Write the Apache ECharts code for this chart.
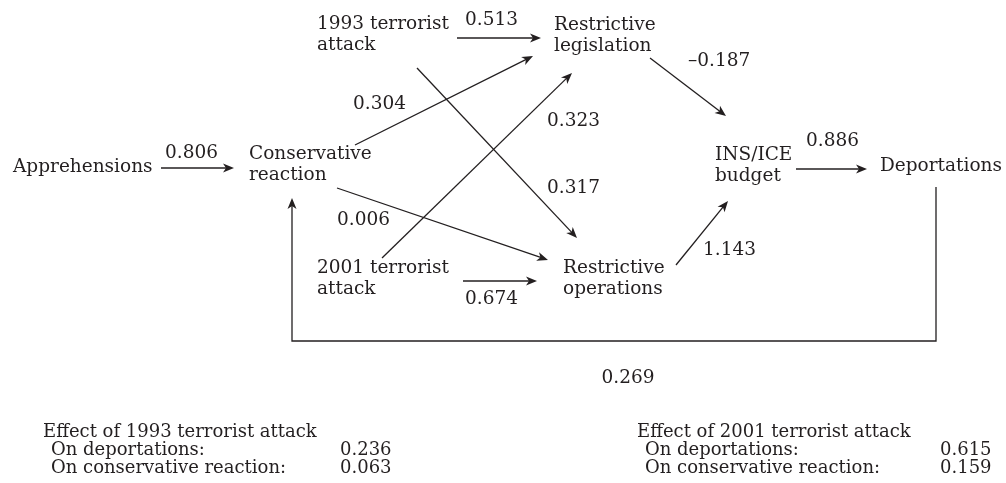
<!DOCTYPE html>
<html>
<head>
<meta charset="utf-8">
<script src="https://cdn.jsdelivr.net/npm/echarts@6/dist/echarts.min.js"></script>
<style>
html,body{margin:0;padding:0;background:#fff;}
#chart{width:1006px;height:483px;}
</style>
</head>
<body>
<div id="chart"></div>
<script>
// ---------------- DATA ----------------
const nodeNames = [
  'Apprehensions',
  'Conservative\nreaction',
  '1993 terrorist\nattack',
  'Restrictive\nlegislation',
  'INS/ICE\nbudget',
  'Deportations',
  '2001 terrorist\nattack',
  'Restrictive\noperations'
];
const pathFrom = [0, 2, 1, 6, 2, 1, 6, 3, 7, 4, 5];
const pathTo   = [1, 3, 3, 3, 7, 7, 7, 4, 4, 5, 1];
const pathCoefficients = ['0.806', '0.513', '0.304', '0.323', '0.317', '0.006', '0.674', '\u20130.187', '1.143', '0.886', '0.269'];
const effectTitles = ['Effect of 1993 terrorist attack', 'Effect of 2001 terrorist attack'];
const effectRows = ['On deportations:', 'On conservative reaction:'];
const effects1993 = ['0.236', '0.063'];
const effects2001 = ['0.615', '0.159'];

// ---------------- LAYOUT (diagram space 1006 x 483) ----------------
const nodeAnchor = [[13,167],[249,154],[317,24],[554,25],[715,155],[880,166],[317,268],[563,268]]; // left x, centre of first line
const pathRoutes = [
  [[161,168],[234,168]],
  [[457,38],[541,38]],
  [[355,145],[533,56]],
  [[382,258],[572,73]],
  [[417,68],[577,238]],
  [[337,188],[548,260]],
  [[463,281],[537,281]],
  [[650,58],[726,116]],
  [[676,265],[728,201]],
  [[796,169],[867,169]],
  [[936,187],[936,341],[292,341],[292,198]]
];
const coefAnchor = [[165,153],[465,20],[353,104],[547,121],[547,188],[337,220],[465,299],[688,61],[703,250],[806,141],[628,378]];
const coefAlign  = ['left','left','left','left','left','left','left','left','left','left','center'];
const effectBlockX = [[43,51,340],[637,645,940]]; // title x, row x, value x
const effectLineY = [432, 450, 468];

// ---------------- STYLE ----------------
const INK = '#231f20';
const FAMILY = '"DejaVu Serif", serif';
function fitSize(str, width){
  const ctx = document.createElement('canvas').getContext('2d');
  ctx.font = '100px ' + FAMILY;
  return Math.round(100 * width / ctx.measureText(str).width * 2) / 2;
}
const mainSize = fitSize('Apprehensions', 139);
const noteSize = fitSize('Effect of 1993 terrorist attack', 275);
const MAIN_LH = 21, NOTE_LH = 18;

function textEl(str, x, y, size, align, lh){
  return {
    type: 'text',
    style: {
      text: str, x: x, y: y, fill: INK,
      font: size + 'px ' + FAMILY,
      align: align || 'left', verticalAlign: 'middle',
      lineHeight: lh
    }
  };
}

function arrowHead(p, q){
  const dx = q[0]-p[0], dy = q[1]-p[1], len = Math.hypot(dx, dy);
  const ux = dx/len, uy = dy/len, nx = -uy, ny = ux;
  const L = 11, W = 4.5, N = 3;
  return [
    [q[0], q[1]],
    [q[0]-ux*L+nx*W, q[1]-uy*L+ny*W],
    [q[0]-ux*(L-N), q[1]-uy*(L-N)],
    [q[0]-ux*L-nx*W, q[1]-uy*L-ny*W]
  ];
}

const chart = echarts.init(document.getElementById('chart'), null, {renderer: 'canvas'});
chart.setOption({
  animation: false,
  backgroundColor: '#fff',
  grid: {left: 0, right: 0, top: 0, bottom: 0},
  xAxis: {type: 'value', min: 0, max: 1006, show: false},
  yAxis: {type: 'value', min: 0, max: 483, inverse: true, show: false},
  series: [
    {
      name: 'paths', type: 'custom', coordinateSystem: 'cartesian2d', silent: true,
      data: pathFrom.map((f, i) => [i, 0, f, pathTo[i]]),
      renderItem: function(params, api){
        const i = api.value(0);
        const pts = pathRoutes[i].map(p => api.coord(p));
        const q = pts[pts.length-1], p = pts[pts.length-2];
        const dx = q[0]-p[0], dy = q[1]-p[1], len = Math.hypot(dx, dy);
        const linePts = pts.slice(0, -1).concat([[q[0]-dx/len*7, q[1]-dy/len*7]]);
        return {
          type: 'group',
          children: [
            {type: 'polyline', shape: {points: linePts}, style: {stroke: INK, lineWidth: 1.3, fill: null}},
            {type: 'polygon', shape: {points: arrowHead(p, q)}, style: {fill: INK}}
          ]
        };
      }
    },
    {
      name: 'nodes', type: 'custom', coordinateSystem: 'cartesian2d', silent: true,
      data: nodeNames.map((n, i) => [i, 0]),
      renderItem: function(params, api){
        const i = api.value(0);
        const c = api.coord(nodeAnchor[i]);
        const lines = nodeNames[i].split('\n');
        return {
          type: 'group',
          children: lines.map((s, k) => textEl(s, c[0], c[1] + k*MAIN_LH, mainSize, 'left', MAIN_LH))
        };
      }
    },
    {
      name: 'coefficients', type: 'custom', coordinateSystem: 'cartesian2d', silent: true,
      data: pathCoefficients.map((v, i) => [i, 0]),
      renderItem: function(params, api){
        const i = api.value(0);
        const c = api.coord(coefAnchor[i]);
        return textEl(pathCoefficients[i], c[0], c[1], mainSize, coefAlign[i], MAIN_LH);
      }
    },
    {
      name: 'effects', type: 'custom', coordinateSystem: 'cartesian2d', silent: true,
      data: [[0, 0], [1, 0]],
      renderItem: function(params, api){
        const b = api.value(0);
        const vals = b === 0 ? effects1993 : effects2001;
        const xs = effectBlockX[b];
        const t = api.coord([xs[0], effectLineY[0]]);
        const children = [textEl(effectTitles[b], t[0], t[1], noteSize, 'left', NOTE_LH)];
        effectRows.forEach((r, k) => {
          const a = api.coord([xs[1], effectLineY[k+1]]);
          const v = api.coord([xs[2], effectLineY[k+1]]);
          children.push(textEl(r, a[0], a[1], noteSize, 'left', NOTE_LH));
          children.push(textEl(vals[k], v[0], v[1], noteSize, 'left', NOTE_LH));
        });
        return {type: 'group', children: children};
      }
    }
  ]
});
</script>
</body>
</html>
